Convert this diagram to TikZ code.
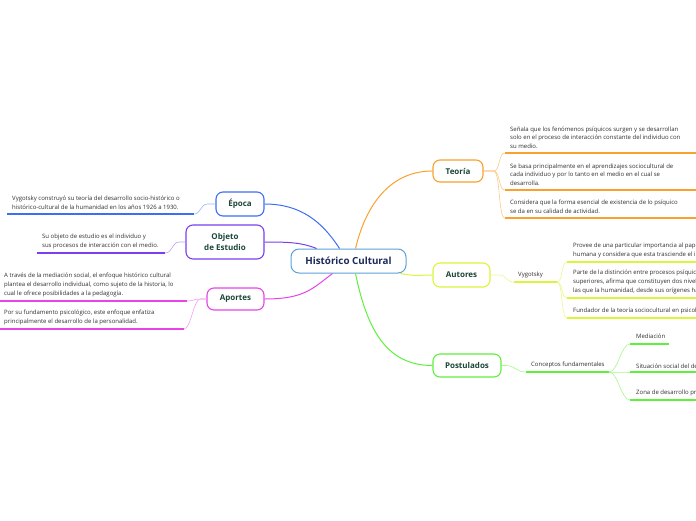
\documentclass[tikz,border=0pt]{standalone}
\usepackage{fontspec}
\setmainfont{Open Sans}
\definecolor{cOrange}{HTML}{F8A12C}
\definecolor{cOrangeL}{HTML}{FBC98A}
\definecolor{cYellow}{HTML}{DCF43A}
\definecolor{cYellowL}{HTML}{E8F88A}
\definecolor{cGreen}{HTML}{5EF03C}
\definecolor{cGreenL}{HTML}{A6F78E}
\definecolor{cBlue}{HTML}{3D6EF4}
\definecolor{cBlueL}{HTML}{9DB6F8}
\definecolor{cPurple}{HTML}{7A3FEF}
\definecolor{cPurpleL}{HTML}{BFA0F6}
\definecolor{cMagenta}{HTML}{E545E7}
\definecolor{cMagentaL}{HTML}{F2A2F3}
\definecolor{cCenter}{HTML}{5CA0DA}
\definecolor{centertext}{HTML}{1B2A5A}
\definecolor{topictext}{HTML}{1B4638}
\definecolor{bodytext}{HTML}{2E2E2E}
\begin{document}
\begin{tikzpicture}[x=1pt,y=-1pt,
  topic/.style={draw, rounded corners=7pt, line width=1.1pt, fill=white,
    font=\fontsize{8}{10.5}\selectfont\bfseries, text=topictext, align=center, inner sep=0pt},
  txt/.style={font=\fontsize{6}{8.8}\selectfont, text=bodytext, align=left,
    inner sep=0pt, anchor=south west},
  conn/.style={line width=1pt},
  sub/.style={line width=0.6pt},
  ul/.style={line width=1.6pt}]
\useasboundingbox (0,0) rectangle (696,520);
\clip (0,0) rectangle (696,520);

% central and topic nodes
\node[draw=cCenter, rounded corners=8pt, line width=1pt, fill=white,
  minimum width=115pt, minimum height=24pt, inner sep=0pt,
  font=\fontsize{9.8}{12}\selectfont\bfseries, text=centertext] (hc) at (348.5,261) {Histórico Cultural};
\node[topic, draw=cOrange, minimum width=50pt, minimum height=22pt] (teoria) at (458,171) {Teoría};
\node[topic, draw=cYellow, minimum width=57pt, minimum height=24pt] (autores) at (461.5,275) {Autores};
\node[topic, draw=cGreen, minimum width=68pt, minimum height=23pt] (postulados) at (467,365.5) {Postulados};
\node[topic, draw=cBlue, minimum width=48pt, minimum height=24pt] (epoca) at (240,204) {Época};
\node[topic, draw=cPurple, minimum width=78pt, minimum height=34pt] (objeto) at (225,242) {Objeto\\de Estudio};
\node[topic, draw=cMagenta, minimum width=57pt, minimum height=22pt] (aportes) at (235.5,299) {Aportes};

% main connectors
\draw[conn, cOrange] ([xshift=7pt]hc.north) .. controls +(12,-50) and +(-38,0) .. (teoria.west);
\draw[conn, cBlue] ([xshift=-9pt]hc.north) .. controls +(-18,-28) and +(35,0) .. (epoca.east);
\draw[conn, cPurple] ([xshift=-32pt]hc.north) .. controls +(-15,-6) and +(25,0) .. (objeto.east);
\draw[conn, cMagenta] ([xshift=-16pt]hc.south) .. controls +(-20,15) and +(40,0) .. (aportes.east);
\draw[conn, cYellow] ([xshift=-6pt]hc.south east) .. controls +(15,3) and +(-15,0) .. (autores.west);
\draw[conn, cGreen] ([xshift=7pt]hc.south) .. controls +(12,58) and +(-45,0) .. (postulados.west);

% Teoria
\coordinate (t1) at (505,153);
\coordinate (t2) at (505,190);
\coordinate (t3) at (505,218);
\foreach \c in {t1,t2,t3}{
  \draw[sub, cOrangeL] (teoria.east) -- ++(10,0) .. controls +(7,0) and +(-7,0) .. (\c);
  \draw[ul, cOrange] (\c) -- ++(200,0);
}
\node[txt] (t1x) at (510,149) {Señala que los fenómenos psíquicos surgen y se desarrollan\\solo en el proceso de interacción constante del individuo con\\su medio.};
\node[txt] (t2x) at (510,186) {Se basa principalmente en el aprendizajes sociocultural de\\cada individuo y por lo tanto en el medio en el cual se\\desarrolla.};
\node[txt] (t3x) at (510,214) {Considera que la forma esencial de existencia de lo psíquico\\se da en su calidad de actividad.};

% Autores
\coordinate (v1) at (514,282);
\coordinate (v2) at (557,282);
\draw[sub, cYellowL] (autores.east) -- ++(8,0) .. controls +(9,0) and +(-9,0) .. (v1);
\draw[ul, cYellow] (v1) -- (v2);
\node[txt] (vyg) at (518,278.5) {Vygotsky};
\coordinate (p1) at (567,262);
\coordinate (p2) at (567,298);
\coordinate (p3) at (567,318);
\foreach \c in {p1,p2,p3}{
  \draw[sub, cYellowL] (v2) .. controls +(6,0) and +(-6,0) .. (\c);
  \draw[ul, cYellow] (\c) -- ++(150,0);
}
\node[txt] (p1x) at (573,258) {Provee de una particular importancia al papel de la cultura\\humana y considera que esta trasciende el individuo.};
\node[txt] (p2x) at (573,294) {Parte de la distinción entre procesos psíquicos elementales y\\superiores, afirma que constituyen dos niveles diferentes,\\las que la humanidad, desde sus orígenes ha desarrollado.};
\node[txt] (p3x) at (573,314) {Fundador de la teoría sociocultural en psicología.};

% Postulados
\coordinate (c1) at (526,372);
\coordinate (c2) at (609,372);
\draw[sub, cGreenL] (postulados.east) -- ++(4,0) .. controls +(10,0) and +(-10,0) .. (c1);
\draw[ul, cGreen] (c1) -- (c2);
\node[txt] (conc) at (531,368.5) {Conceptos fundamentales};
\coordinate (m1) at (630,344);
\coordinate (m2) at (630,372);
\coordinate (m3) at (630,400);
\foreach \c in {m1,m2,m3}{
  \draw[sub, cGreenL] (c2) .. controls +(9,0) and +(-9,0) .. (\c);
}
\draw[ul, cGreen] (m1) -- ++(39,0);
\draw[ul, cGreen] (m2) -- ++(80,0);
\draw[ul, cGreen] (m3) -- ++(80,0);
\node[txt] (m1x) at (636,338.5) {Mediación};
\node[txt] (m2x) at (636,368.5) {Situación social del desarrollo};
\node[txt] (m3x) at (636,396.5) {Zona de desarrollo próximo};

% Epoca
\coordinate (e1) at (194,214);
\draw[sub, cBlueL] (epoca.west) -- ++(-8,0) .. controls +(-7,0) and +(7,0) .. (e1);
\draw[ul, cBlue] (e1) -- (7,214);
\node[txt] (e1x) at (12,210) {Vygotsky construyó su teoría del desarrollo socio-histórico o\\histórico-cultural de la humanidad en los años 1926 a 1930.};

% Objeto
\coordinate (o1) at (165,253);
\draw[sub, cPurpleL] (objeto.west) -- ++(-6,0) .. controls +(-8,0) and +(8,0) .. (o1);
\draw[ul, cPurple] (o1) -- (37,253);
\node[txt] (o1x) at (42,249) {Su objeto de estudio es el individuo y\\sus procesos de interacción con el medio.};

% Aportes
\coordinate (a1) at (187,301);
\coordinate (a2) at (184,329);
\foreach \c in {a1,a2}{
  \draw[sub, cMagentaL] (aportes.west) -- ++(-6,0) .. controls +(-7,0) and +(7,0) .. (\c);
}
\draw[ul, cMagenta] (a1) -- (-5,301);
\draw[ul, cMagenta] (a2) -- (-5,329);
\node[txt] (a1x) at (4,297) {A través de la mediación social, el enfoque histórico cultural\\plantea el desarrollo individual, como sujeto de la historia, lo\\cual le ofrece posibilidades a la pedagogía.};
\node[txt] (a2x) at (4,325) {Por su fundamento psicológico, este enfoque enfatiza\\principalmente el desarrollo de la personalidad.};
\end{tikzpicture}
\end{document}
